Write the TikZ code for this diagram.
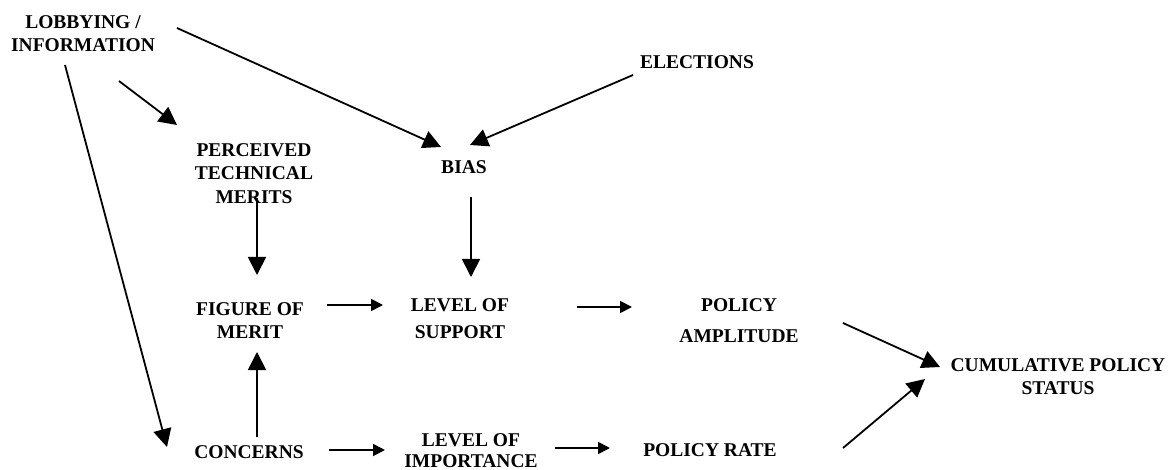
\documentclass[tikz,border=0pt]{standalone}
\usepackage{fontspec}
\setmainfont{Liberation Serif}
\usetikzlibrary{arrows.meta}
\begin{document}
\begin{tikzpicture}[x=1pt,y=-1pt,
  lbl/.style={inner sep=0pt,anchor=north,align=center,font=\fontsize{19.5}{23.5}\selectfont\bfseries},
  bigarr/.style={line width=1.8pt,-{Triangle[length=18pt,width=18pt]}},
  smallarr/.style={line width=1.8pt,-{Triangle[length=12pt,width=12pt]}}]
\useasboundingbox (0,0) rectangle (1172,470);
\node[lbl] (lob) at (83,15) {LOBBYING /\\INFORMATION};
\node[lbl] (elec) at (697,55) {ELECTIONS};
\node[lbl] (perc) at (254,143) {PERCEIVED\\TECHNICAL\\MERITS};
\node[lbl] (bias) at (464,160) {BIAS};
\node[lbl] (fig) at (250,302) {FIGURE OF\\MERIT};
\node[lbl] (lev) at (460,298) {LEVEL OF\\[3.5pt]SUPPORT};
\node[lbl] (amp) at (739,298) {POLICY\\[8pt]AMPLITUDE};
\node[lbl] (cum) at (1058,358) {CUMULATIVE POLICY\\STATUS};
\node[lbl] (conc) at (249,445) {CONCERNS};
\node[lbl] (imp) at (471,433) {LEVEL OF\\[-2pt]IMPORTANCE};
\node[lbl] (rate) at (710,443) {POLICY RATE};

\draw[bigarr] ([shift={(94,13)}]lob.north) -- ([shift={(-23,-13)}]bias.north);
\draw[bigarr] ([shift={(36,66)}]lob.north) -- ([shift={(-77,-18)}]perc.north);
\draw[bigarr] ([shift={(-18,50)}]lob.north) -- ([shift={(-82,2)}]conc.north);
\draw[bigarr] ([shift={(-64,20)}]elec.north) -- ([shift={(6,-15)}]bias.north);
\draw[bigarr] ([shift={(3,55)}]perc.north) -- ([shift={(7,-27)}]fig.north);
\draw[bigarr] ([shift={(7,37)}]bias.north) -- ([shift={(11,-21)}]lev.north);
\draw[bigarr] ([shift={(8,-8)}]conc.north) -- ([shift={(7,50)}]fig.north);
\draw[smallarr] ([shift={(77,3)}]fig.north) -- ([shift={(-77,7)}]lev.north);
\draw[smallarr] ([shift={(117,9)}]lev.north) -- ([shift={(-107,9)}]amp.north);
\draw[smallarr] ([shift={(80,5)}]conc.north) -- ([shift={(-86,17)}]imp.north);
\draw[smallarr] ([shift={(84,15)}]imp.north) -- ([shift={(-100,5)}]rate.north);
\draw[bigarr] ([shift={(104,25)}]amp.north) -- ([shift={(-118,9)}]cum.north);
\draw[bigarr] ([shift={(133,5)}]rate.north) -- ([shift={(-133,21)}]cum.north);
\end{tikzpicture}
\end{document}
